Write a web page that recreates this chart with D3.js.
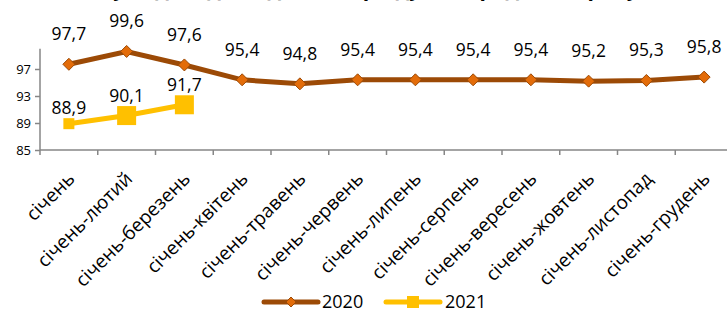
<!DOCTYPE html>
<html>
<head>
<meta charset="utf-8">
<script src="https://cdn.jsdelivr.net/npm/d3@7"></script>
<style>
  body { margin: 0; background: #fff; }
  text { font-family: "Open Sans", "Noto Sans", sans-serif; fill: #000; }
</style>
</head>
<body>
<div id="chart"></div>
<script>
var svgWidth = 727;
var svgHeight = 310;

// categories and values
var categories = ["січень", "січень-лютий", "січень-березень", "січень-квітень",
    "січень-травень", "січень-червень", "січень-липень", "січень-серпень",
    "січень-вересень", "січень-жовтень", "січень-листопад", "січень-грудень"];
var values2020 = [97.7, 99.6, 97.6, 95.4, 94.8, 95.4, 95.4, 95.4, 95.4, 95.2, 95.3, 95.8];
var values2021 = [88.9, 90.1, 91.7];
var yTicks = [85, 89, 93, 97];
var seriesNames = ["2020", "2021"];

var svg = d3.select("#chart")
    .append("svg")
    .attr("width", svgWidth)
    .attr("height", svgHeight);

// title is cut off at the top edge in the original
svg.append("text")
    .attr("x", 376)
    .attr("y", -4)
    .attr("text-anchor", "middle")
    .style("font-size", "21px")
    .style("font-weight", "bold")
    .text("(у % до відповідного періоду попереднього року)");

var xScale = d3.scaleBand()
    .domain(categories)
    .range([40, 733]);

var yScale = d3.scaleLinear()
    .domain([85, 100])
    .range([150, 48.75]);

var axisColor = "#868686";

// y axis
var yAxis = svg.append("g")
    .attr("transform", "translate(40,0)")
    .call(d3.axisLeft(yScale).tickValues(yTicks).tickSize(5).tickPadding(4));
yAxis.select(".domain").attr("stroke", axisColor).attr("stroke-width", 1.5)
    .attr("d", "M0," + yScale(100) + "V" + yScale(85));
yAxis.selectAll(".tick line").attr("stroke", axisColor).attr("stroke-width", 1.5);
yAxis.selectAll(".tick text").style("font-size", "13px").attr("font-family", null);

// x axis with ticks at band edges
var xAxis = svg.append("g")
    .attr("transform", "translate(0,150)");
xAxis.append("line")
    .attr("x1", 40).attr("x2", 733)
    .attr("stroke", axisColor).attr("stroke-width", 1.5);
xAxis.selectAll(".edge")
    .data(categories)
    .enter()
    .append("line")
    .attr("x1", d => xScale(d)).attr("x2", d => xScale(d))
    .attr("y1", 0).attr("y2", 5)
    .attr("stroke", axisColor).attr("stroke-width", 1.5);
xAxis.selectAll(".cat")
    .data(categories)
    .enter()
    .append("text")
    .attr("text-anchor", "end")
    .attr("transform", d => `translate(${xScale(d) + xScale.bandwidth() / 2 + 7}, 30) rotate(-45)`)
    .style("font-size", "19px")
    .text(d => d);

var cx = (d, i) => xScale(categories[i]) + xScale.bandwidth() / 2;

// 2020 series
var color2020 = "#9C4A06";
var fill2020 = "#E36C09";
var line = d3.line()
    .x((d, i) => cx(d, i))
    .y(d => yScale(d));

svg.append("path")
    .datum(values2020)
    .attr("d", line)
    .attr("fill", "none")
    .attr("stroke", color2020)
    .attr("stroke-width", 5);

function diamond(x, y, r) {
    return `M${x},${y - r}L${x + r},${y}L${x},${y + r}L${x - r},${y}Z`;
}

svg.selectAll(".m2020")
    .data(values2020)
    .enter()
    .append("path")
    .attr("d", (d, i) => diamond(cx(d, i), yScale(d), 6))
    .attr("fill", fill2020)
    .attr("stroke", color2020)
    .attr("stroke-width", 1);

svg.selectAll(".l2020")
    .data(values2020)
    .enter()
    .append("text")
    .attr("x", (d, i) => cx(d, i))
    .attr("y", d => yScale(d) - 24)
    .attr("text-anchor", "middle")
    .style("font-size", "17.5px")
    .text(d => String(d).replace(".", ","));

// 2021 series
var color2021 = "#FFC000";
svg.append("path")
    .datum(values2021)
    .attr("d", line)
    .attr("fill", "none")
    .attr("stroke", color2021)
    .attr("stroke-width", 5);

var squareSizes = [11, 19, 19];
svg.selectAll(".m2021")
    .data(values2021)
    .enter()
    .append("rect")
    .attr("x", (d, i) => cx(d, i) - squareSizes[i] / 2)
    .attr("y", (d, i) => yScale(d) - squareSizes[i] / 2)
    .attr("width", (d, i) => squareSizes[i])
    .attr("height", (d, i) => squareSizes[i])
    .attr("fill", color2021);

svg.selectAll(".l2021")
    .data(values2021)
    .enter()
    .append("text")
    .attr("x", (d, i) => cx(d, i))
    .attr("y", (d, i) => yScale(d) - squareSizes[i] / 2 - 4)
    .attr("text-anchor", "middle")
    .style("font-size", "17.5px")
    .text(d => String(d).replace(".", ","));

// legend
var legend = svg.append("g").attr("transform", "translate(264,302)");
legend.append("line")
    .attr("x1", 0).attr("x2", 54)
    .attr("stroke", color2020).attr("stroke-width", 5).attr("stroke-linecap", "round");
legend.append("path")
    .attr("d", diamond(27, 0, 5))
    .attr("fill", fill2020).attr("stroke", color2020);
legend.append("text")
    .attr("x", 58).attr("y", 6)
    .style("font-size", "18px")
    .text(seriesNames[0]);

legend.append("line")
    .attr("x1", 122).attr("x2", 176)
    .attr("stroke", color2021).attr("stroke-width", 5).attr("stroke-linecap", "round");
legend.append("rect")
    .attr("x", 143).attr("y", -6).attr("width", 12).attr("height", 12)
    .attr("fill", color2021);
legend.append("text")
    .attr("x", 181).attr("y", 6)
    .style("font-size", "18px")
    .text(seriesNames[1]);
</script>
</body>
</html>
